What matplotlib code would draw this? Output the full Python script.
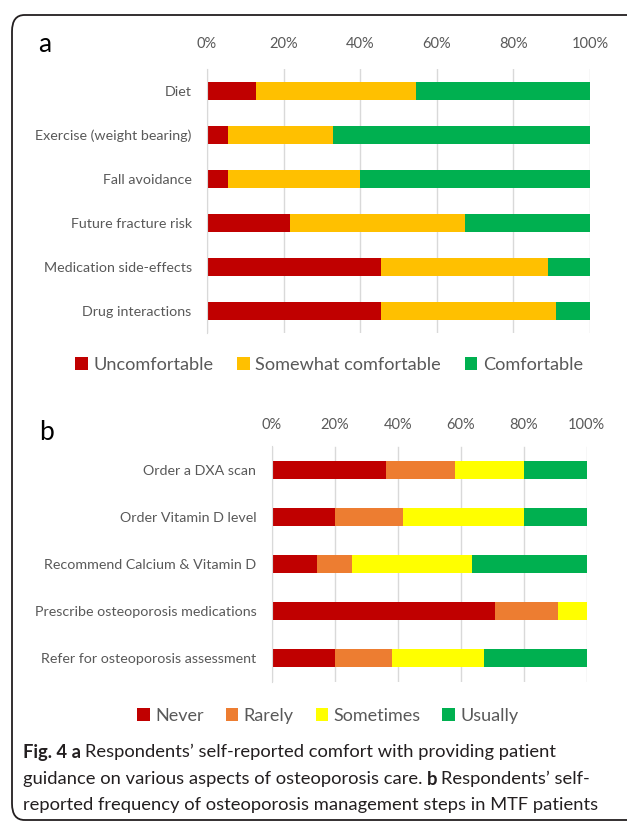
import matplotlib
matplotlib.use("Agg")
import matplotlib.pyplot as plt
from matplotlib.patches import FancyBboxPatch
import numpy as np

plt.rcParams['font.family'] = ['Lato', 'DejaVu Sans']

# panel a data (percent of respondents)
topics = ["Diet", "Exercise (weight bearing)", "Fall avoidance",
          "Future fracture risk", "Medication side-effects", "Drug interactions"]
uncomfortable = [12.7, 5.5, 5.5, 21.8, 45.5, 45.5]
somewhat = [41.8, 27.3, 34.5, 45.5, 43.6, 45.5]
comfortable = [45.5, 67.3, 60.0, 32.7, 10.9, 9.1]

# panel b data
steps = ["Order a DXA scan", "Order Vitamin D level", "Recommend Calcium & Vitamin D",
         "Prescribe osteoporosis medications", "Refer for osteoporosis assessment"]
never = [36.4, 20.0, 14.5, 70.9, 20.0]
rarely = [21.8, 21.8, 10.9, 20.0, 18.2]
sometimes = [21.8, 38.2, 38.2, 9.1, 29.1]
usually = [20.0, 20.0, 36.4, 0.0, 32.7]

ticks = [0, 20, 40, 60, 80, 100]
tick_labels = ["0%", "20%", "40%", "60%", "80%", "100%"]

W, H = 627, 822
fig = plt.figure(figsize=(W / 100, H / 100), dpi=100)

# rounded frame around the figure
frame = FancyBboxPatch((12 / W, 1 - 820 / H), 640 / W, 805 / H,
                       boxstyle="round,pad=0,rounding_size=0.02",
                       transform=fig.transFigure, fill=False,
                       edgecolor="#231f20", linewidth=1.3)
fig.patches.append(frame)


def stacked(ax, labels, series, colors, names, pad_top):
    y = np.arange(len(labels))
    left = np.zeros(len(labels))
    handles = []
    for vals, col, name in zip(series, colors, names):
        h = ax.barh(y, vals, left=left, height=0.4, color=col, label=name)
        handles.append(h)
        left += np.array(vals)
    ax.set_ylim(len(labels) - 0.5, -0.5)
    ax.set_xlim(0, 100)
    ax.set_yticks(y)
    ax.set_yticklabels(labels, fontsize=10.3, color="#595959")
    ax.set_xticks(ticks)
    ax.set_xticklabels(tick_labels, fontsize=10.5, color="#595959")
    ax.xaxis.tick_top()
    ax.tick_params(axis="x", length=0, pad=pad_top)
    ax.tick_params(axis="y", length=0, pad=11)
    ax.grid(axis="x", color="#d9d9d9", linewidth=1)
    ax.set_axisbelow(True)
    for s in ["top", "right", "bottom"]:
        ax.spines[s].set_visible(False)
    ax.spines["left"].set_color("#d9d9d9")
    return handles


ax1 = fig.add_axes([207 / W, 1 - 333 / H, 383 / W, 264 / H])
h1 = stacked(ax1, topics, [uncomfortable, somewhat, comfortable],
             ["#c00000", "#ffc000", "#00b050"],
             ["Uncomfortable", "Somewhat comfortable", "Comfortable"], 13)
fig.legend(handles=h1, loc="center", bbox_to_anchor=(329 / W, 1 - 365 / H),
           ncol=3, frameon=False, fontsize=13.1, handlelength=0.7, handleheight=0.7,
           handletextpad=0.3, columnspacing=1.3, labelcolor="#595959")
fig.text(45 / W, 1 - 44 / H, "a", fontsize=19, ha="center", va="center")

ax2 = fig.add_axes([271.6 / W, 1 - 681.5 / H, 315.2 / W, 235 / H])
h2 = stacked(ax2, steps, [never, rarely, sometimes, usually],
             ["#c00000", "#ed7d31", "#ffff00", "#00b050"],
             ["Never", "Rarely", "Sometimes", "Usually"], 10.5)
fig.legend(handles=h2, loc="center", bbox_to_anchor=(328 / W, 1 - 716 / H),
           ncol=4, frameon=False, fontsize=13.0, handlelength=0.7, handleheight=0.7,
           handletextpad=0.3, columnspacing=1.2, labelcolor="#595959")
fig.text(47 / W, 1 - 432 / H, "b", fontsize=19, ha="center", va="center")

# caption
cap_font = dict(fontsize=13.2, color="#231f20", va="center")
x0 = 23 / W
t = fig.text(x0, 1 - 752 / H, "Fig. 4 a", fontweight="bold", **cap_font)
fig.canvas.draw()
bb = t.get_window_extent()
fig.text(bb.x1 / W + 4 / W, 1 - 752 / H,
         "Respondents\u2019 self-reported comfort with providing patient", **cap_font)
t2 = fig.text(x0, 1 - 779 / H,
              "guidance on various aspects of osteoporosis care.", **cap_font)
fig.canvas.draw()
bb2 = t2.get_window_extent()
t3 = fig.text(bb2.x1 / W + 4 / W, 1 - 779 / H, "b", fontweight="bold", **cap_font)
fig.canvas.draw()
bb3 = t3.get_window_extent()
fig.text(bb3.x1 / W + 4 / W, 1 - 779 / H, "Respondents\u2019 self-", **cap_font)
fig.text(x0, 1 - 805 / H,
         "reported frequency of osteoporosis management steps in MTF patients", **cap_font)

fig.savefig("out.png", dpi=100)
